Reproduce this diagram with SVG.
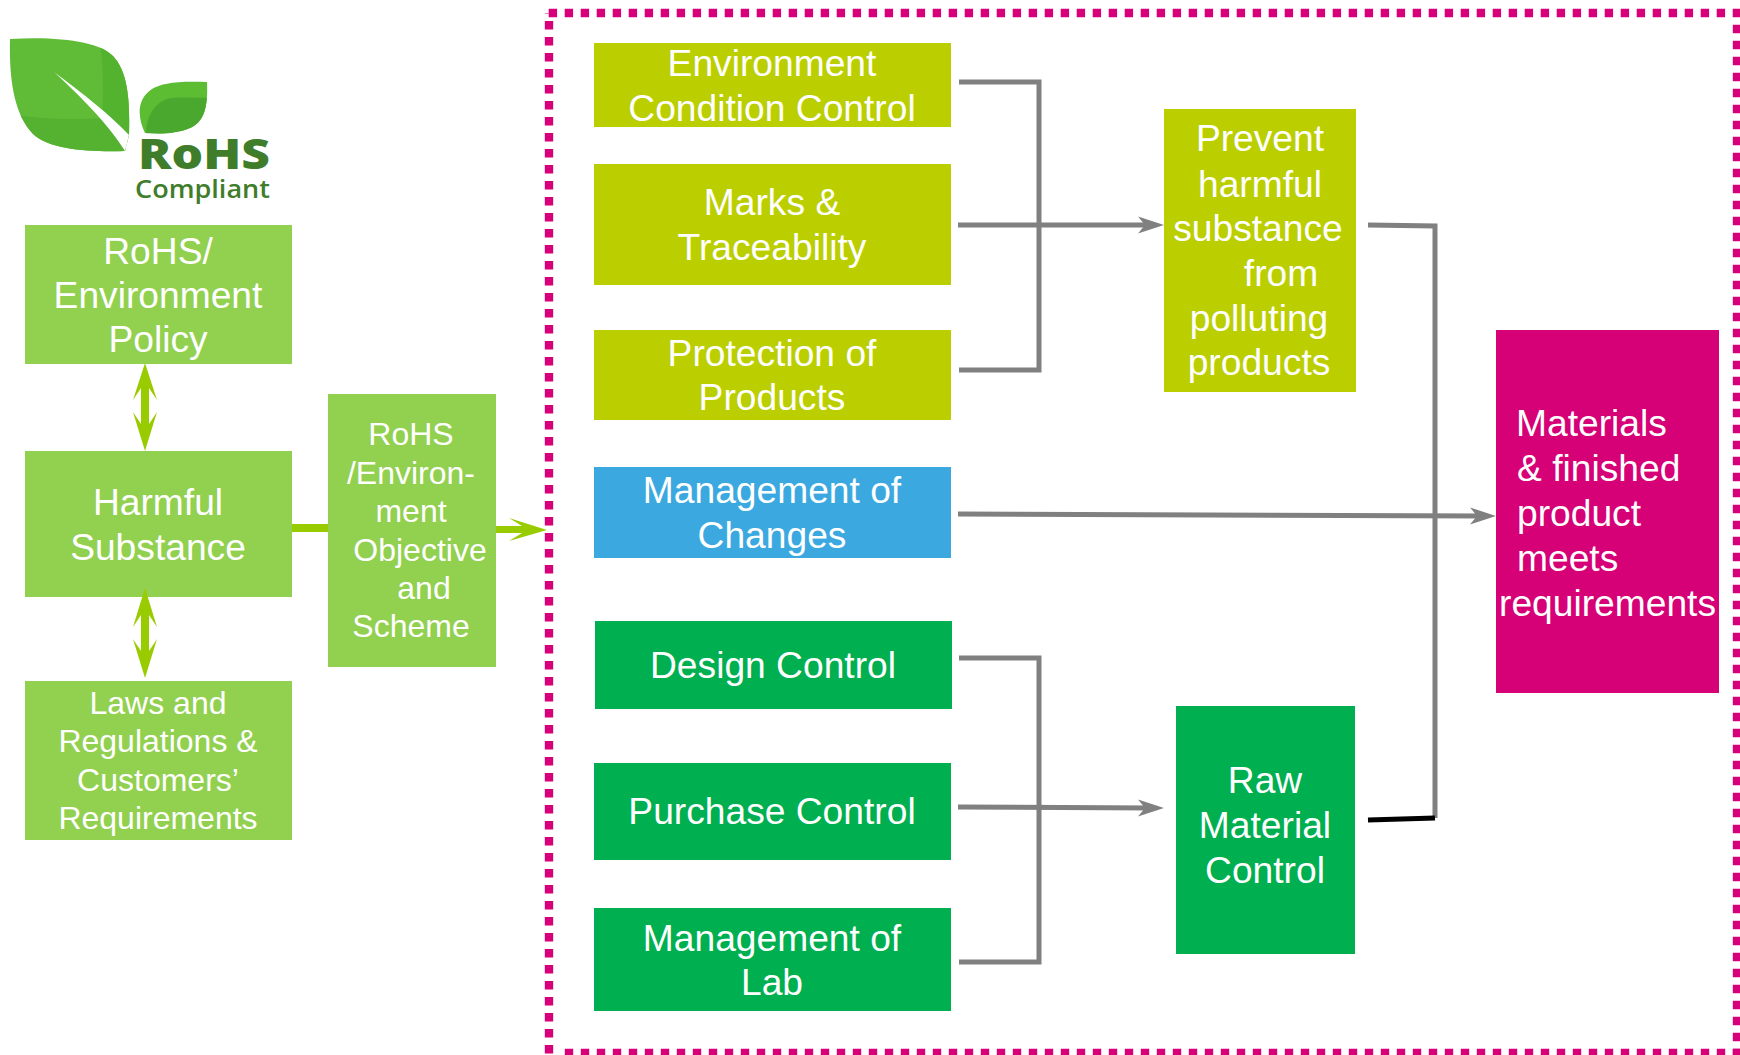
<svg xmlns="http://www.w3.org/2000/svg" width="1740" height="1055" viewBox="0 0 1740 1055">
<defs>
<style>
text{font-family:"Liberation Sans",Arial,sans-serif;fill:#fff}
.m{font-size:37.2px;text-anchor:middle}
.s{font-size:32px;text-anchor:middle}
.l{font-size:37.2px}
.lg{fill:#92d050}.ol{fill:#bbce00}.bl{fill:#3ba9df}.gr{fill:#00af50}.mg{fill:#d60077}
.c{fill:none;stroke:#808080;stroke-width:5}
.k{fill:none;stroke:#000;stroke-width:5}
.d{fill:none;stroke:#d6007a;stroke-width:8.4;stroke-dasharray:8.4 7.6}
.g{fill:#99cc00}
</style>
<clipPath id="bigleaf"><path d="M10 39C60 36 100 42 113 56C128 72 130 100 129 135L125 151C90 152 50 150 33 134C14 114 9 80 10 39Z"/></clipPath>
<clipPath id="smallleaf"><path d="M145 133C133 108 142 88 166 84C180 81 195 82 207 82C208 105 205 122 190 128C176 134 160 134 145 133Z"/></clipPath>
<marker id="ah" markerUnits="userSpaceOnUse" markerWidth="28" markerHeight="20" refX="14" refY="9" orient="auto" overflow="visible"><path d="M0 0.500 L26 9 L0 17.500 L7 9 Z" fill="#808080"/></marker>
</defs>
<rect width="1740" height="1055" fill="#fff"/>
<g id="frame">
<path class="d" d="M548.700 13H1740"/>
<path class="d" d="M1737 24.800V1055"/>
<path class="d" d="M564.800 1053H1740"/>
<path class="d" d="M549 1053.500V13"/>
</g>
<g id="logo">
<g clip-path="url(#bigleaf)">
<rect x="5" y="35" width="130" height="120" fill="#60bc37"/>
<path d="M100 44C104 70 103 100 102 120L135 150V44Z" fill="#54b32e"/>
<path d="M5 112C35 120 75 120 104 118L135 160H5Z" fill="#55b130"/>
</g>
<path d="M54 72C85 95 110 115 129 135L125 151C112 130 90 105 54 72Z" fill="#fff"/>
<g clip-path="url(#smallleaf)">
<rect x="135" y="78" width="80" height="60" fill="#5cbc32"/>
<path d="M146 135C146 115 156 100 172 98C185 97 196 98 210 98V135Z" fill="#4aa82f"/>
</g>
<text x="138" y="169" font-size="42" font-weight="800" textLength="132" lengthAdjust="spacingAndGlyphs" style="font-family:'Open Sans',sans-serif;fill:#3f7d2a">RoHS</text>
<text x="135" y="198" font-size="25" font-weight="600" textLength="135" lengthAdjust="spacingAndGlyphs" style="font-family:'Open Sans',sans-serif;fill:#3f7d2a">Compliant</text>
</g>
<g id="connectors">
<path class="c" d="M959 82H1039V370H959"/>
<path class="c" d="M958 225H1152" marker-end="url(#ah)"/>
<path class="c" d="M959 658H1039V962H959"/>
<path class="c" d="M958 807L1152 808" marker-end="url(#ah)"/>
<path class="c" d="M1368 225L1435 226V818"/>
<path class="k" d="M1368 820L1435 818"/>
<path class="c" d="M958 514L1484 516" marker-end="url(#ah)"/>
</g>
<g id="policy"><rect class="lg" x="25" y="225" width="267" height="139"/>
<text class="m" x="158" y="264">RoHS/</text><text class="m" x="158" y="308">Environment</text><text class="m" x="158" y="352">Policy</text></g>
<g id="harmful"><rect class="lg" x="25" y="451" width="267" height="146"/>
<text class="m" x="158" y="515">Harmful</text><text class="m" x="158" y="560">Substance</text></g>
<g id="laws"><rect class="lg" x="25" y="681" width="267" height="159"/>
<text class="s" x="158" y="714">Laws and</text><text class="s" x="158" y="752">Regulations &amp;</text><text class="s" x="158" y="791">Customers’</text><text class="s" x="158" y="829">Requirements</text></g>
<g id="objective"><rect class="lg" x="328" y="394" width="168" height="273"/>
<text class="s" x="411" y="445">RoHS</text><text class="s" x="411" y="484">/Environ-</text><text class="s" x="411" y="522">ment</text><text class="s" x="420" y="561">Objective</text><text class="s" x="424" y="599">and</text><text class="s" x="411" y="637">Scheme</text></g>
<g id="green-arrows">
<path class="g" d="M145 363L157 400L149 388V424L157 412L145 451L133 412L141 424V388L133 400Z"/>
<path class="g" d="M145 588L157 627L149 615V651L157 639L145 678L133 639L141 651V615L133 627Z"/>
<rect class="g" x="292" y="524" width="36" height="8"/>
<path class="g" d="M496 526H522L509 518L547 530L509 541L522 533H496Z"/>
</g>
<g id="env"><rect class="ol" x="594" y="43" width="357" height="84"/>
<text class="m" x="772" y="76">Environment</text><text class="m" x="772" y="121">Condition Control</text></g>
<g id="marks"><rect class="ol" x="594" y="164" width="357" height="121"/>
<text class="m" x="772" y="215">Marks &amp;</text><text class="m" x="772" y="260">Traceability</text></g>
<g id="protection"><rect class="ol" x="594" y="330" width="357" height="90"/>
<text class="m" x="772" y="366">Protection of</text><text class="m" x="772" y="410">Products</text></g>
<g id="changes"><rect class="bl" x="594" y="467" width="357" height="91"/>
<text class="m" x="772" y="503">Management of</text><text class="m" x="772" y="548">Changes</text></g>
<g id="design"><rect class="gr" x="595" y="621" width="357" height="88"/>
<text class="m" x="773" y="678">Design Control</text></g>
<g id="purchase"><rect class="gr" x="594" y="763" width="357" height="97"/>
<text class="m" x="772" y="824">Purchase Control</text></g>
<g id="lab"><rect class="gr" x="594" y="908" width="357" height="103"/>
<text class="m" x="772" y="951">Management of</text><text class="m" x="772" y="995">Lab</text></g>
<g id="prevent"><rect class="ol" x="1164" y="109" width="192" height="283"/>
<text class="m" x="1260" y="151">Prevent</text><text class="m" x="1260" y="197">harmful</text><text class="m" x="1258" y="241">substance</text><text class="m" x="1281" y="286">from</text><text class="m" x="1259" y="331">polluting</text><text class="m" x="1259" y="375">products</text></g>
<g id="raw"><rect class="gr" x="1176" y="706" width="179" height="248"/>
<text class="m" x="1265" y="793">Raw</text><text class="m" x="1265" y="838">Material</text><text class="m" x="1265" y="883">Control</text></g>
<g id="materials"><rect class="mg" x="1496" y="330" width="223" height="363"/>
<text class="l" x="1516" y="436">Materials</text><text class="l" x="1517" y="481">&amp; finished</text><text class="l" x="1517" y="526">product</text><text class="l" x="1517" y="571">meets</text><text class="l" x="1499" y="616">requirements</text></g>
</svg>
